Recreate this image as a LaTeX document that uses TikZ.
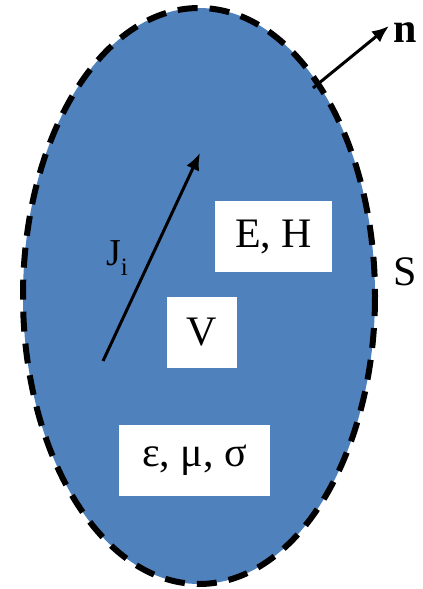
\documentclass[tikz,border=0pt]{standalone}
\usepackage{fontspec}
\setmainfont{Liberation Serif}
\usetikzlibrary{arrows.meta}
\definecolor{regionblue}{HTML}{4F81BD}
\tikzset{
  region/.style = {fill=regionblue, draw=black, line width=6pt,
                   dash pattern=on 20pt off 12pt},
  valbox/.style = {fill=white, inner sep=0pt, minimum height=71pt,
                   font=\fontsize{42}{48}\selectfont},
  lbl/.style    = {inner sep=0pt, font=\fontsize{42}{48}\selectfont},
  vec/.style    = {-{Latex[length=17pt,width=14pt]}, line width=3pt},
}
\begin{document}
\begin{tikzpicture}[x=1pt,y=-1pt]
\useasboundingbox (0,0) rectangle (423,589);
% volume V with surface S
\path[region] (199,296) ellipse [x radius=176, y radius=288];
% field and material boxes
\node[valbox, minimum width=117pt] (fields) at (273.5,236.5) {E, H};
\node[valbox, minimum width=70pt] (vol) at (202,332) {V};
\node[valbox, minimum width=151pt] (media) at (194.5,460.5) {ε, μ, σ};
% source current
\coordinate (jtail) at (103,361);
\coordinate (jhead) at (200,153);
\draw[vec] (jtail) -- (jhead);
\node[lbl, font=\fontsize{38}{44}\selectfont] (jlabel) at (117,258)
  {J\raisebox{-10pt}{\fontsize{25}{28}\selectfont i}};
% outward normal
\coordinate (nfoot) at (313,88);
\coordinate (ntip) at (389,26);
\draw[vec] (nfoot) -- (ntip);
\node[lbl, anchor=west] (nlabel) at (393,33) {\textbf{n}};
\node[lbl] (slabel) at (405,272) {S};
\end{tikzpicture}
\end{document}
